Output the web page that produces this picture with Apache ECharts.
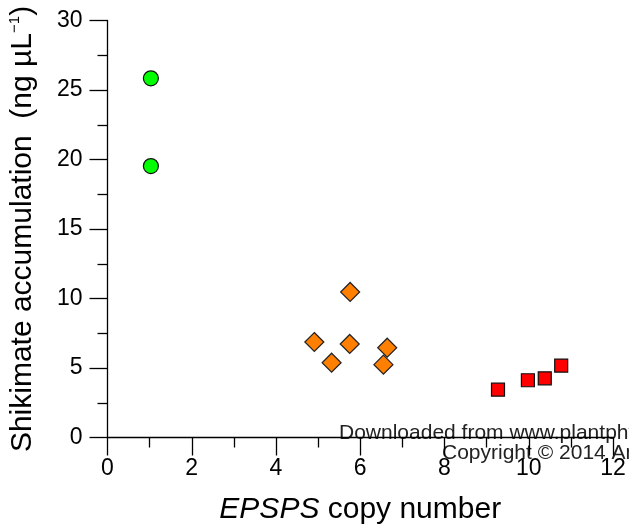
<!DOCTYPE html>
<html><head><meta charset="utf-8">
<script src="https://cdn.jsdelivr.net/npm/echarts@6/dist/echarts.min.js"></script>
<style>html,body{margin:0;padding:0;background:#fff}#c{width:629px;height:525px}</style>
</head><body><div id="c"></div>
<script>
// Data
const xTicks = [0, 2, 4, 6, 8, 10, 12];
const yTicks = [0, 5, 10, 15, 20, 25, 30];
const greenX = [1.03, 1.03];
const greenY = [25.84, 19.53];
const orangeX = [5.76, 4.91, 5.75, 6.64, 5.32, 6.55];
const orangeY = [10.47, 6.87, 6.73, 6.46, 5.38, 5.24];
const redX = [9.27, 9.98, 10.38, 10.77];
const redY = [3.44, 4.12, 4.26, 5.17];

const pairs = (xs, ys) => xs.map((x, i) => [x, ys[i]]);
const FONT = 'Liberation Sans, Arial, sans-serif';
const chart = echarts.init(document.getElementById('c'), null, {renderer: 'canvas'});
const axisCommon = {
  axisLine: {show: true, onZero: false, lineStyle: {color: '#000', width: 1.3}},
  splitLine: {show: false},
  axisLabel: {color: '#000', fontSize: 23, fontFamily: FONT},
  minorTick: {show: true, splitNumber: 2, length: 10, lineStyle: {color: '#000', width: 1.3}},
  axisTick: {show: true, length: 18, lineStyle: {color: '#000', width: 1.3}}
};
chart.setOption({
  animation: false,
  grid: {left: 107.5, right: 16, top: 20.5, bottom: 87.5, containLabel: false, outerBoundsMode: 'none'},
  xAxis: Object.assign({}, axisCommon, {
    type: 'value', min: xTicks[0], max: xTicks[xTicks.length - 1], interval: 2,
    axisLabel: Object.assign({}, axisCommon.axisLabel, {margin: 20}),
    name: '{i|EPSPS} copy number', nameLocation: 'middle', nameGap: 57,
    nameTextStyle: {color: '#000', fontSize: 30, fontFamily: FONT, verticalAlign: 'top',
      rich: {i: {fontStyle: 'italic', fontSize: 30, fontFamily: FONT, color: '#000'}}}
  }),
  yAxis: Object.assign({}, axisCommon, {
    type: 'value', min: yTicks[0], max: yTicks[yTicks.length - 1], interval: 5,
    axisLabel: Object.assign({}, axisCommon.axisLabel, {margin: 25}),
    name: 'Shikimate accumulation  (ng µL{s|−1})', nameLocation: 'middle', nameGap: 70, nameRotate: 90,
    nameTextStyle: {color: '#000', fontSize: 30, fontFamily: FONT,
      rich: {s: {fontSize: 15, fontFamily: FONT, color: '#000', verticalAlign: 'top', lineHeight: 30}}}
  }),
  series: [
    {type: 'scatter', data: pairs(greenX, greenY), symbol: 'circle', symbolSize: 15,
      itemStyle: {color: '#00ff00', borderColor: '#111', borderWidth: 1.2, opacity: 1}},
    {type: 'scatter', data: pairs(orangeX, orangeY), symbol: 'diamond', symbolSize: 19,
      itemStyle: {color: '#ff8000', borderColor: '#222', borderWidth: 1.2, opacity: 1}},
    {type: 'scatter', data: pairs(redX, redY), symbol: 'rect', symbolSize: 13,
      itemStyle: {color: '#ff0000', borderColor: '#111', borderWidth: 1.2, opacity: 1}}
  ],
  graphic: [
    {type: 'text', left: 339, top: 423, style: {text: 'Downloaded from www.plantphysiol.org', fontSize: 21, fontFamily: FONT, fill: '#222'}},
    {type: 'text', left: 442, top: 443, style: {text: 'Copyright © 2014 American Society of Plant Biologists', fontSize: 21, fontFamily: FONT, fill: '#222'}}
  ]
});
</script></body></html>
